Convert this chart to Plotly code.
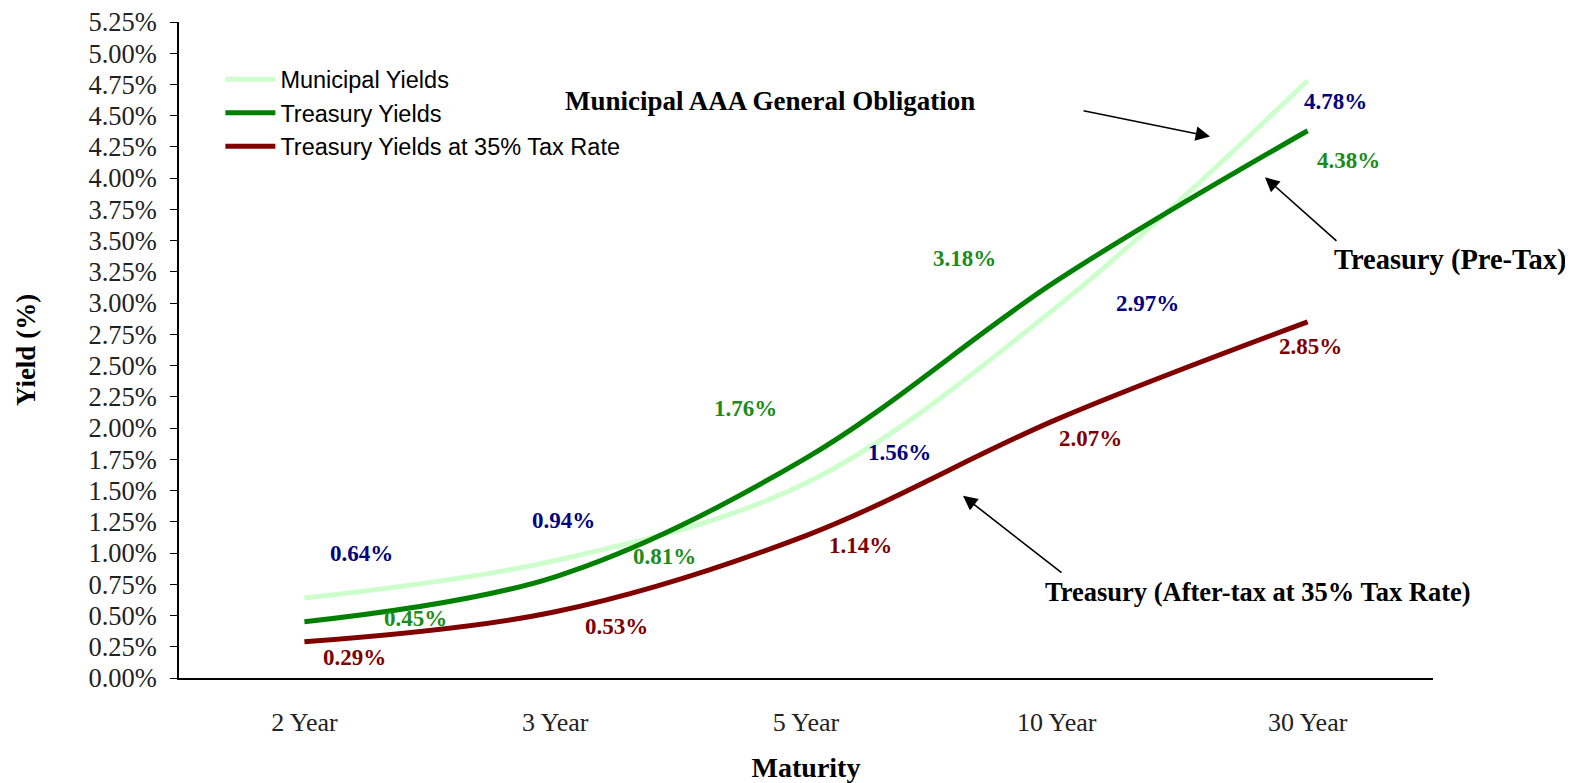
import plotly.graph_objects as go

# ---- data ----
maturities = ["2 Year", "3 Year", "5 Year", "10 Year", "30 Year"]
municipal = [0.64, 0.94, 1.56, 2.97, 4.78]
treasury = [0.45, 0.81, 1.76, 3.18, 4.38]
treasury_after_tax = [0.29, 0.53, 1.14, 2.07, 2.85]
y_ticks = [i * 0.25 for i in range(22)]
y_ticktext = [f"{v:.2f}%" for v in y_ticks]

# label offsets (pixels, dx right, dy up)
muni_shift = [(57, 45), (8, 40), (93, 31), (91, 3), (28, -21)]
tsy_shift = [(111, 3), (109, 20), (-61, 50), (-92, 22), (41, -30)]
at_shift = [(50, -16), (61, -15), (54, -10), (34, -19), (3, -25)]

C_MUNI = "#ccffcc"
C_TSY = "#008000"
C_AT = "#800000"
C_MUNI_LBL = "#000080"
C_TSY_LBL = "#1a8c1a"
C_AT_LBL = "#800000"

SERIF = "Liberation Serif, Times New Roman, serif"
SANS = "Liberation Sans, Arial, sans-serif"

fig = go.Figure()
for name, vals, col in [
    ("Municipal Yields", municipal, C_MUNI),
    ("Treasury Yields", treasury, C_TSY),
    ("Treasury Yields at 35% Tax Rate", treasury_after_tax, C_AT),
]:
    fig.add_trace(go.Scatter(
        x=maturities, y=vals, mode="lines", name=name,
        line=dict(color=col, width=5, shape="spline", smoothing=1.0),
        hoverinfo="skip",
    ))

annotations = []
for vals, shifts, col in [
    (municipal, muni_shift, C_MUNI_LBL),
    (treasury, tsy_shift, C_TSY_LBL),
    (treasury_after_tax, at_shift, C_AT_LBL),
]:
    for cat, v, (dx, dy) in zip(maturities, vals, shifts):
        annotations.append(dict(
            x=cat, y=v, xref="x", yref="y", text=f"<b>{v:.2f}%</b>",
            showarrow=False, xshift=dx, yshift=dy,
            font=dict(family=SERIF, size=23, color=col),
        ))

# callout texts
for txt, xp, yp, fs in [
    ("Municipal AAA General Obligation", 0.4713, 0.880, 27),
    ("Treasury (Pre-Tax)", 1.0136, 0.637, 28.5),
    ("Treasury (After-tax at 35% Tax Rate)", 0.8604, 0.1305, 26.5),
]:
    annotations.append(dict(
        x=xp, y=yp, xref="paper", yref="paper", text=f"<b>{txt}</b>",
        showarrow=False, xanchor="center", yanchor="middle",
        font=dict(family=SERIF, size=fs, color="#000000"),
    ))

# arrows (head position, tail offset in px)
for xp, yp, ax, ay in [
    (0.8222, 0.8255, -128, -26),
    (0.8660, 0.7633, 73, 65),
    (0.6252, 0.2777, 100, 78),
]:
    annotations.append(dict(
        x=xp, y=yp, xref="paper", yref="paper", text="",
        showarrow=True, ax=ax, ay=ay, axref="pixel", ayref="pixel",
        arrowhead=2, arrowsize=1.8, arrowwidth=1.6, arrowcolor="#000000",
    ))

# the page body adds an 8px offset, so the figure is drawn 8px smaller
fig.update_layout(
    width=1565, height=775,
    margin=dict(l=171, r=140, t=14, b=105),
    paper_bgcolor="white", plot_bgcolor="white",
    showlegend=True,
    legend=dict(
        x=0.033, y=0.946, xanchor="left", yanchor="top",
        bgcolor="rgba(0,0,0,0)", borderwidth=0,
        font=dict(family=SANS, size=23.5, color="#000000"),
        tracegroupgap=0, itemwidth=50,
    ),
    annotations=annotations,
)

fig.update_xaxes(
    type="category", range=[-0.5, 4.5], automargin=False,
    showgrid=False, zeroline=False,
    showline=True, linecolor="#000000", linewidth=1.5,
    ticks="", ticklabelstandoff=20,
    tickfont=dict(family=SERIF, size=26, color="#222222"),
    title=dict(text="<b>Maturity</b>", font=dict(family=SERIF, size=28, color="#000000"), standoff=22),
)
fig.update_yaxes(
    range=[0, 5.25], automargin=False,
    tickvals=y_ticks, ticktext=y_ticktext, ticklabeloverflow="allow",
    showgrid=False, zeroline=False,
    showline=True, linecolor="#000000", linewidth=1.5,
    ticks="outside", ticklen=7, tickwidth=1.2, tickcolor="#000000",
    ticklabelstandoff=8,
    tickfont=dict(family=SERIF, size=26.5, color="#222222"),
    title=dict(text="<b>Yield (%)</b>", font=dict(family=SERIF, size=27, color="#000000"), standoff=45),
)

fig.write_html("out.html")
